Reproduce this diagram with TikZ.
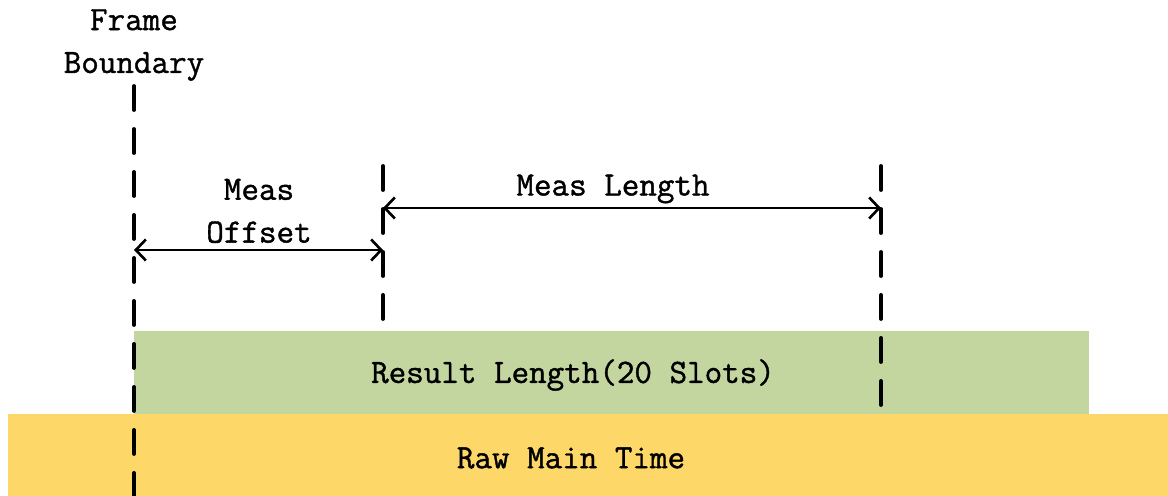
\documentclass[tikz,border=0pt]{standalone}
\usepackage{fontspec}
\setmonofont{Latin Modern Mono}[FakeBold=1.2]
\usetikzlibrary{arrows.meta}
\definecolor{resgreen}{HTML}{C4D6A0}
\definecolor{rawyellow}{HTML}{FDD868}
\begin{document}
\begin{tikzpicture}[x=0.02cm,y=-0.02cm,
  lbl/.style={inner sep=0pt,align=center,font=\ttfamily\fontsize{19.4pt}{24.4pt}\selectfont},
  band/.style={draw=none,inner sep=0pt,anchor=north west},
  bound/.style={line width=2.2pt,line cap=round,dash pattern=on 0.48cm off 0.38cm},
  dim/.style={line width=1.5pt,{Straight Barb[length=0.2cm,width=0.42cm]}-{Straight Barb[length=0.2cm,width=0.42cm]}}]
\useasboundingbox (0,0) rectangle (1168,496);
% bands
\node[band,fill=rawyellow,minimum width=23.2cm,minimum height=1.64cm] (raw) at (8,414) {};
\node[lbl] (rawt) at (571,458) {Raw Main Time};
\node[band,fill=resgreen,minimum width=19.1cm,minimum height=1.66cm] (res) at (134,331) {};
\node[lbl] (rest) at (573,375) {Result Length(20 Slots)};
% boundary lines
\coordinate (fb1) at (134,86);
\coordinate (fb2) at (134,500);
\coordinate (o1) at (383,166);
\coordinate (o2) at (383,324);
\coordinate (l1) at (881,166);
\coordinate (l2) at (881,411);
\draw[bound] (fb1) -- (fb2);
\draw[bound] (o1) -- (o2);
\draw[bound] (l1) -- (l2);
% labels
\node[lbl] (fbt) at (134,45) {Frame\\Boundary};
\node[lbl] (offt) at (259,211) {Meas\\Offset};
\node[lbl] (lent) at (613,189) {Meas Length};
% dimension arrows
\coordinate (da) at (134,250);
\coordinate (db) at (383,250);
\coordinate (dc) at (383,208);
\coordinate (dd) at (881,208);
\draw[dim] (da) -- (db);
\draw[dim] (dc) -- (dd);
\end{tikzpicture}
\end{document}
